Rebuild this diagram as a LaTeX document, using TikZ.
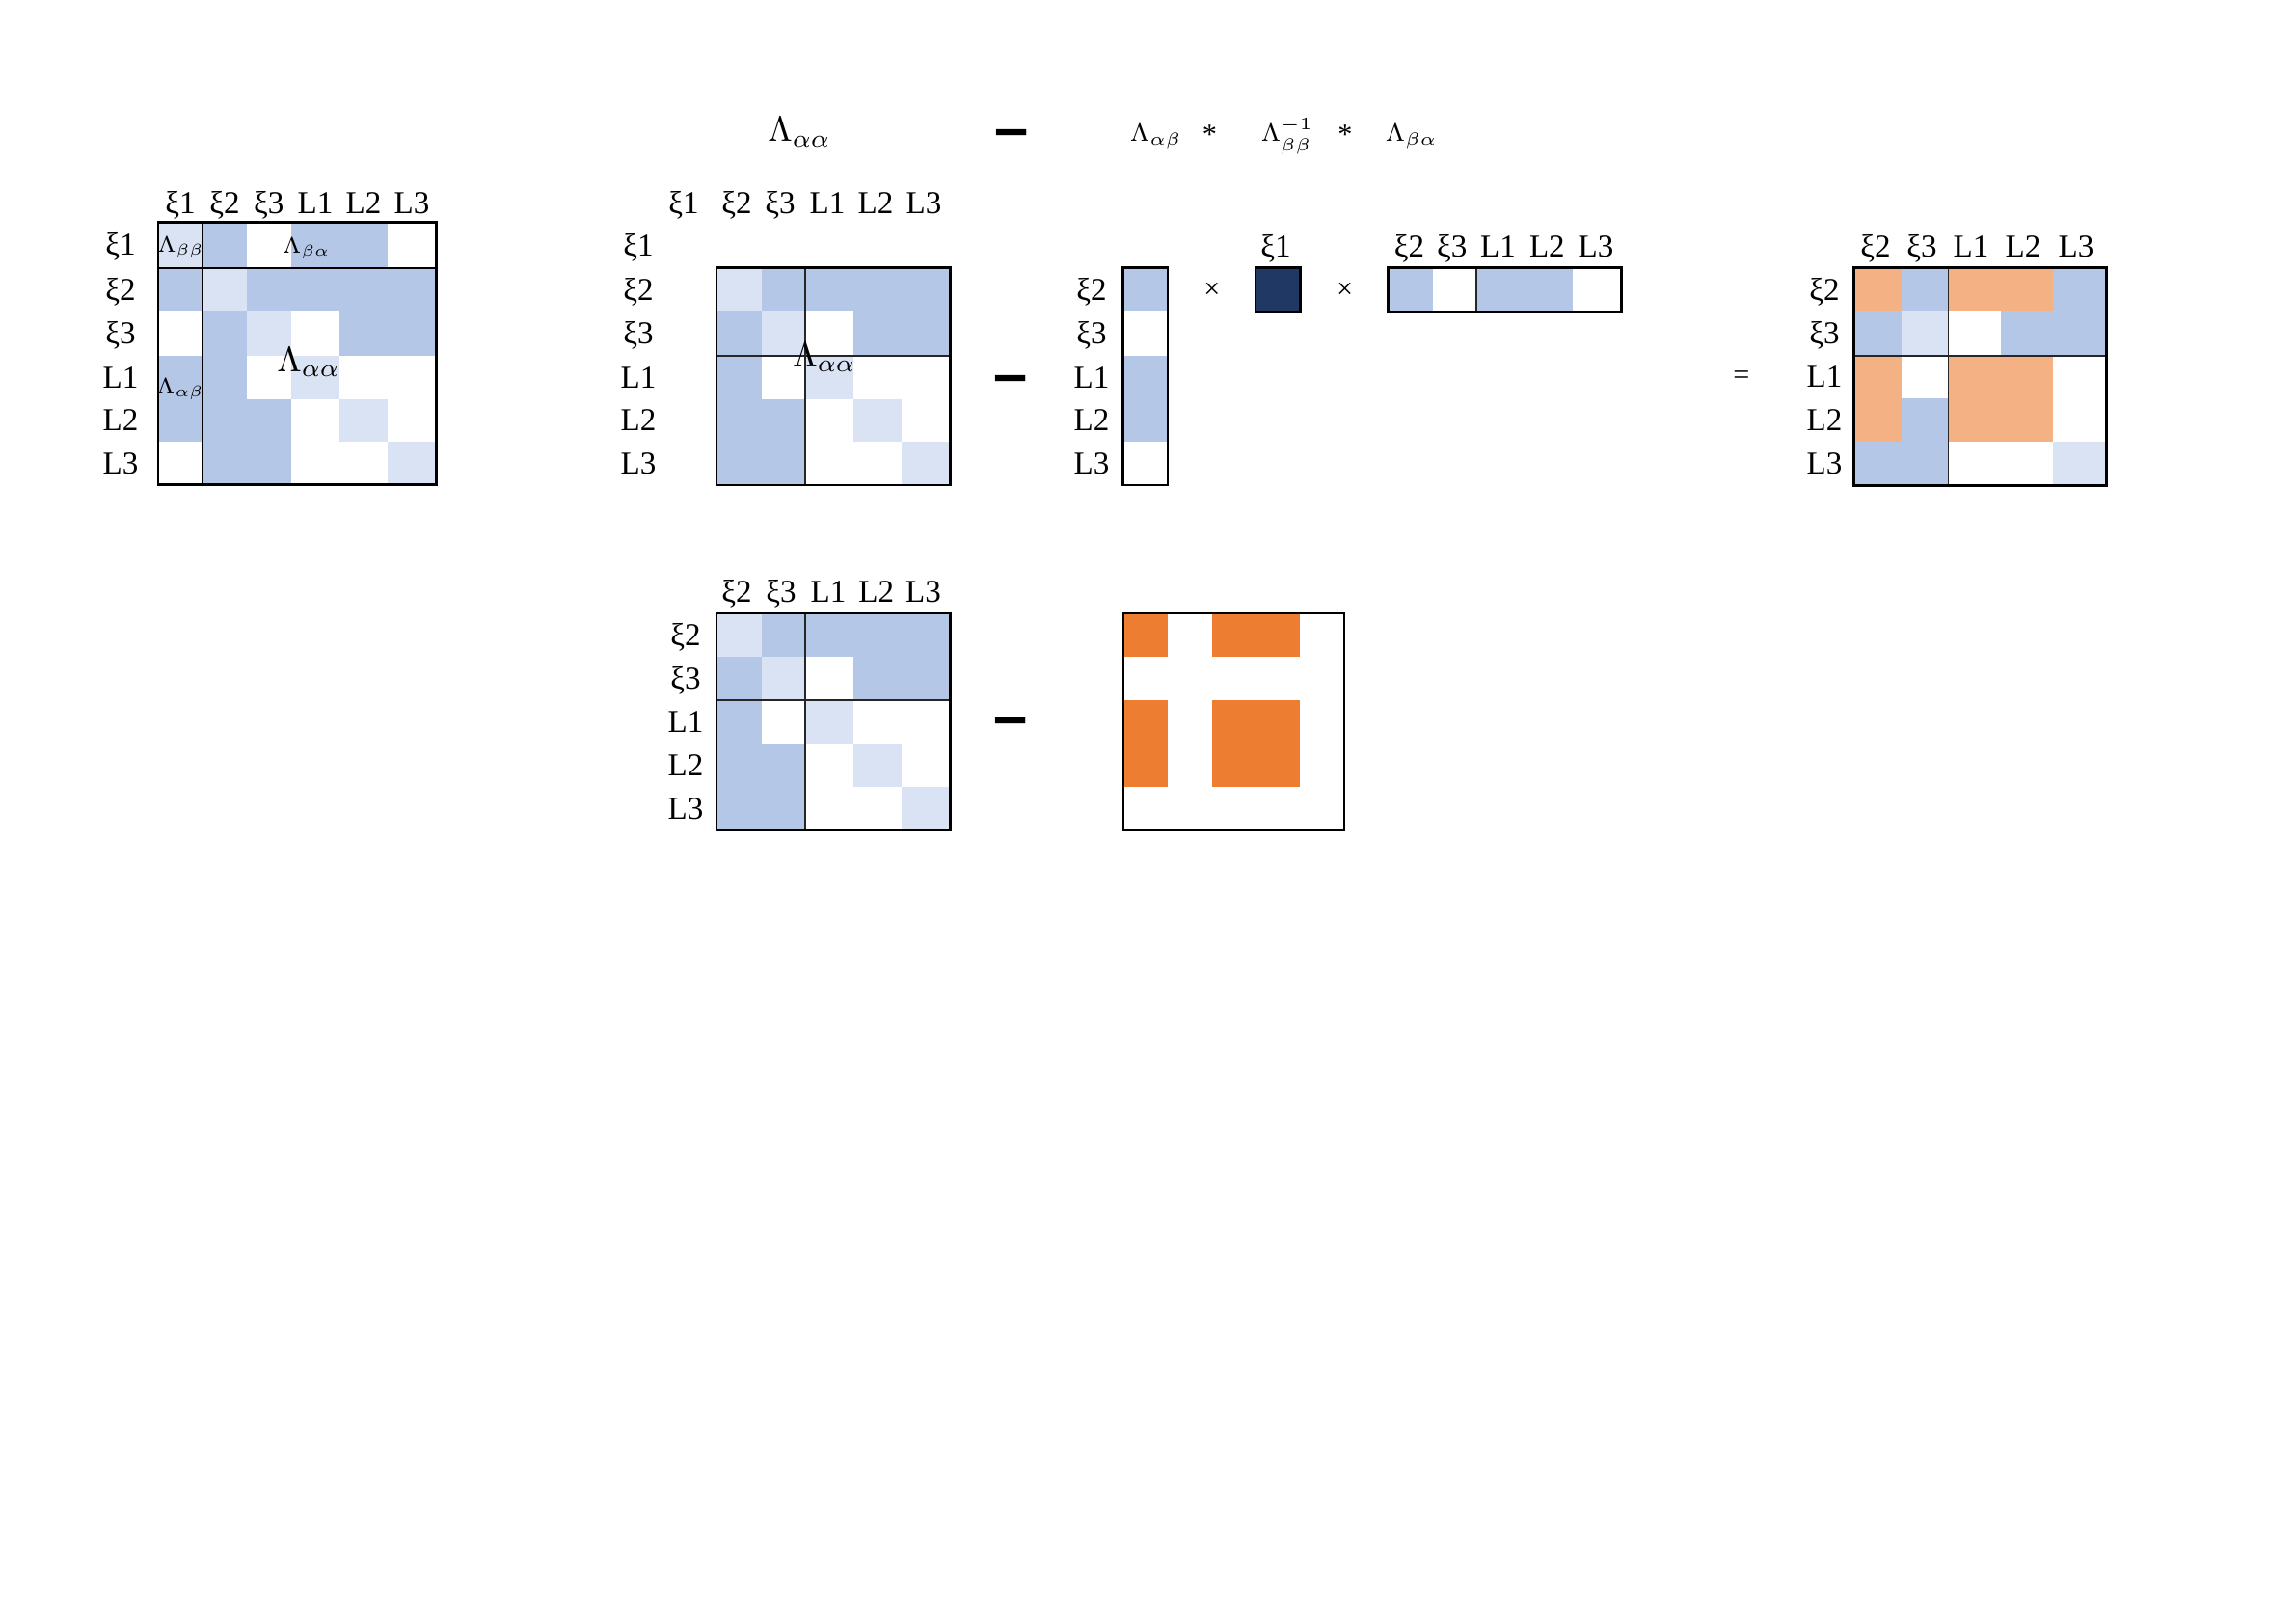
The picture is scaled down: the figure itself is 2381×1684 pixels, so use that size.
\documentclass[tikz,border=0pt]{standalone}
\usepackage{fix-cm}
\usepackage{fontspec}
\setmainfont{Liberation Serif}
\newfontfamily\minusfont{Liberation Sans}
\definecolor{mB}{HTML}{B4C7E7}
\definecolor{mL}{HTML}{DAE3F3}
\definecolor{mO}{HTML}{F4B183}
\definecolor{mR}{HTML}{ED7D31}
\definecolor{mD}{HTML}{203864}
\newcommand{\cellgrid}[3]{%
  \foreach \cc/\rr/\fc in {#3} {%
    \pgfmathtruncatemacro\ccn{\cc+1}%
    \pgfmathtruncatemacro\rrn{\rr+1}%
    \pgfmathsetmacro\xa{{#1}[\cc]}%
    \pgfmathsetmacro\xb{{#1}[\ccn]}%
    \pgfmathsetmacro\ya{{#2}[\rr]}%
    \pgfmathsetmacro\yb{{#2}[\rrn]}%
    \fill[\fc] (\xa,\ya) rectangle (\xb,\yb);
  }%
}
\begin{document}
\begin{tikzpicture}[x=0.1mm,y=-0.1mm,
  lab/.style={font=\fontsize{9.4}{11}\selectfont, anchor=base, inner sep=0pt},
  bigm/.style={font=\fontsize{10.4}{12}\selectfont, anchor=base, inner sep=0pt},
  smallm/.style={font=\fontsize{7.4}{9}\selectfont, anchor=base, inner sep=0pt},
  cellm/.style={font=\fontsize{6.6}{8}\selectfont, anchor=base, inner sep=0pt},
  opsym/.style={font=\fontsize{8.6}{10}\selectfont, inner sep=0pt},
  minussym/.style={font=\minusfont\bfseries\fontsize{18}{18}\selectfont, anchor=base, inner sep=0pt},
  border/.style={draw=black, line width=0.8pt},
  sepline/.style={draw=black, line width=0.55pt},
  thinline/.style={draw=black!85, line width=0.3pt}]
\fill[white] (0,0) rectangle (2381,1684);
\useasboundingbox (0,0) rectangle (2381,1684);

% ---------- top formula ----------
\node[bigm] (taa) at (829,146.7) {$\Lambda_{\alpha\alpha}$};
\node[minussym] (tmin) at (1049,154) {–};
\node[smallm] (tab) at (1199,146.7) {$\Lambda_{\alpha\beta}$};
\node[opsym] (tst1) at (1254.4,140) {*};
\node[smallm] (tbb) at (1335,146.7) {$\Lambda_{\beta\beta}^{-1}$};
\node[opsym] (tst2) at (1395,140) {*};
\node[smallm] (tba) at (1464,146.7) {$\Lambda_{\beta\alpha}$};

% ---------- matrix 1 ----------
\cellgrid{164,210,255.7,301.7,352.3,401.7,452.3}{230.7,277.7,323.3,369,414,458.3,502.7}{
 0/0/mL,1/0/mB,3/0/mB,4/0/mB,
 0/1/mB,1/1/mL,2/1/mB,3/1/mB,4/1/mB,5/1/mB,
 1/2/mB,2/2/mL,4/2/mB,5/2/mB,
 0/3/mB,1/3/mB,3/3/mL,
 0/4/mB,1/4/mB,2/4/mB,4/4/mL,
 1/5/mB,2/5/mB,5/5/mL}
\draw[sepline] (210,230.7) -- (210,502.7);
\draw[sepline] (164,277.7) -- (452.3,277.7);
\draw[border] (164,230.7) rectangle (452.3,502.7);
\foreach \t/\x [count=\i] in {ξ1/187,ξ2/232.9,ξ3/278.7,L1/327,L2/377,L3/427}
  \node[lab] (mac\i) at (\x,221) {\t};
\foreach \t/\y [count=\i] in {ξ1/264.7,ξ2/311,ξ3/356.7,L1/402,L2/446.7,L3/491}
  \node[lab] (mar\i) at (125,\y) {\t};
\node[cellm] (mabb) at (187.5,261) {$\Lambda_{\beta\beta}$};
\node[cellm] (maba) at (318,262) {$\Lambda_{\beta\alpha}$};
\node[cellm] (maab) at (187,408) {$\Lambda_{\alpha\beta}$};
\node[bigm] (maaa) at (320,385) {$\Lambda_{\alpha\alpha}$};

% ---------- matrix 2 ----------
\cellgrid{743,790,835,885,935,985.5}{277.5,323.3,369,414,458.3,503}{
 0/0/mL,1/0/mB,2/0/mB,3/0/mB,4/0/mB,
 0/1/mB,1/1/mL,3/1/mB,4/1/mB,
 0/2/mB,2/2/mL,
 0/3/mB,1/3/mB,3/3/mL,
 0/4/mB,1/4/mB,4/4/mL}
\draw[thinline] (835,277.5) -- (835,503);
\draw[thinline] (743,369) -- (985.5,369);
\draw[border] (743,277.5) rectangle (985.5,503);
\foreach \t/\x [count=\i] in {ξ1/709,ξ2/764,ξ3/809,L1/858,L2/908,L3/958}
  \node[lab] (mbc\i) at (\x,221) {\t};
\foreach \t/\y [count=\i] in {ξ1/265.5,ξ2/311,ξ3/356.7,L1/402,L2/446.7,L3/491}
  \node[lab] (mbr\i) at (662,\y) {\t};
\node[bigm] (mbaa) at (855,380) {$\Lambda_{\alpha\alpha}$};

\node[minussym] (mmin) at (1048,409) {–};

% ---------- column vector ----------
\cellgrid{1164.5,1211}{277.5,323.3,369,414,458.3,503}{0/0/mB,0/2/mB,0/3/mB}
\draw[border] (1164.5,277.5) rectangle (1211,503);
\foreach \t/\y [count=\i] in {ξ2/311,ξ3/356.7,L1/402,L2/446.7,L3/491}
  \node[lab] (cvr\i) at (1132,\y) {\t};

\node[opsym] (tim1) at (1257,301.7) {×};
\fill[mD] (1302,277.5) rectangle (1348.5,324);
\draw[border] (1302,277.5) rectangle (1348.5,324);
\node[lab] (dkl) at (1323,266.5) {ξ1};
\node[opsym] (tim2) at (1394.7,301.7) {×};

% ---------- row vector ----------
\cellgrid{1439.5,1485.5,1531,1581,1631,1681.5}{277.5,324}{0/0/mB,2/0/mB,3/0/mB}
\draw[thinline] (1531,277.5) -- (1531,324);
\draw[border] (1439.5,277.5) rectangle (1681.5,324);
\foreach \t/\x [count=\i] in {ξ2/1461.5,ξ3/1505.7,L1/1553.5,L2/1604.4,L3/1655}
  \node[lab] (rvc\i) at (\x,266.5) {\t};

\node[opsym] (eq) at (1806,392) {=};

% ---------- result matrix ----------
\cellgrid{1922.5,1972.3,2020.7,2075,2129.3,2184.3}{277.5,323.3,369,413.3,458.3,503.5}{
 0/0/mO,1/0/mB,2/0/mO,3/0/mO,4/0/mB,
 0/1/mB,1/1/mL,3/1/mB,4/1/mB,
 0/2/mO,2/2/mO,3/2/mO,
 0/3/mO,1/3/mB,2/3/mO,3/3/mO,
 0/4/mB,1/4/mB,4/4/mL}
\draw[thinline] (2020.7,277.5) -- (2020.7,503.5);
\draw[thinline] (1922.5,369) -- (2184.3,369);
\draw[border] (1922.5,277.5) rectangle (2184.3,503.5);
\foreach \t/\x [count=\i] in {ξ2/1945,ξ3/1993,L1/2044,L2/2098,L3/2153}
  \node[lab] (rsc\i) at (\x,266.5) {\t};
\foreach \t/\y [count=\i] in {ξ2/311,ξ3/356.7,L1/401.7,L2/446.3,L3/491.4}
  \node[lab] (rsr\i) at (1892,\y) {\t};

% ---------- bottom left matrix ----------
\cellgrid{743,790,835,885,935,985.5}{636,681,726,771,816,861}{
 0/0/mL,1/0/mB,2/0/mB,3/0/mB,4/0/mB,
 0/1/mB,1/1/mL,3/1/mB,4/1/mB,
 0/2/mB,2/2/mL,
 0/3/mB,1/3/mB,3/3/mL,
 0/4/mB,1/4/mB,4/4/mL}
\draw[thinline] (835,636) -- (835,861);
\draw[thinline] (743,726) -- (985.5,726);
\draw[border] (743,636) rectangle (985.5,861);
\foreach \t/\x [count=\i] in {ξ2/764,ξ3/810,L1/859,L2/908.7,L3/957.5}
  \node[lab] (blc\i) at (\x,624) {\t};
\foreach \t/\y [count=\i] in {ξ2/669,ξ3/714,L1/759,L2/804,L3/849}
  \node[lab] (blr\i) at (711,\y) {\t};

\node[minussym] (bmin) at (1048,764) {–};

% ---------- bottom right matrix ----------
\cellgrid{1165,1211,1256.5,1302,1348,1394}{636,681,726,771,816,861}{
 0/0/mR,2/0/mR,3/0/mR,
 0/2/mR,2/2/mR,3/2/mR,
 0/3/mR,2/3/mR,3/3/mR}
\draw[border] (1165,636) rectangle (1394,861);
\end{tikzpicture}
\end{document}
